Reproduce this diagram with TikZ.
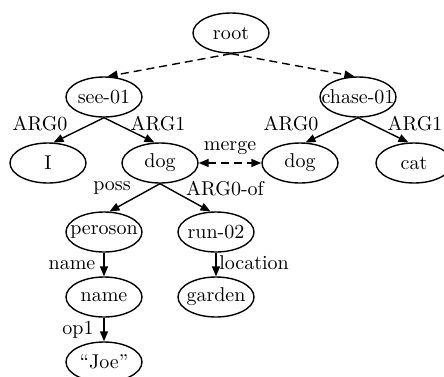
\documentclass[tikz,border=0pt]{standalone}
\usetikzlibrary{arrows.meta,shapes.geometric}
% concept text is set in a zero-width box so every ellipse keeps the same size
\newcommand\cpt[1]{\makebox[0pt]{#1}}
\begin{document}
\begin{tikzpicture}[x=0.5pt,y=-0.5pt,
  concept/.style={ellipse,draw,line width=0.7pt,minimum width=38pt,minimum height=20pt,inner sep=0pt},
  rel/.style={-{Triangle[length=5pt,width=4pt]},line width=0.7pt},
  link/.style={rel,dashed,dash pattern=on 4pt off 2.5pt},
  lbl/.style={inner sep=0pt}]
\useasboundingbox (0,0) rectangle (444,376);
\clip (0,0) rectangle (444,376);
% concepts
\node[concept] (root)  at (231,33)  {\cpt{root}};
\node[concept] (see)   at (104,97)  {\cpt{see-01}};
\node[concept] (chase) at (358,97)  {\cpt{chase-01}};
\node[concept] (i)     at (48,163)  {\cpt{I}};
\node[concept] (dogA)  at (160,163) {\cpt{dog}};
\node[concept] (dogB)  at (300,163) {\cpt{dog}};
\node[concept] (cat)   at (414,163) {\cpt{cat}};
\node[concept] (pers)  at (104,232) {\cpt{peroson}};
\node[concept] (run)   at (216,232) {\cpt{run-02}};
\node[concept] (nm)    at (104,297) {\cpt{name}};
\node[concept] (gard)  at (216,297) {\cpt{garden}};
\node[concept] (joe)   at (104,362) {\cpt{“Joe”}};
% links from the root
\draw[link] (root.south) -- (see.80);
\draw[link] (root.south) -- (chase.100);
% relations
\draw[rel] (see.south) -- (i.75);
\draw[rel] (see.south) -- (dogA.105);
\draw[rel] (chase.south) -- (dogB.75);
\draw[rel] (chase.south) -- (cat.105);
\draw[rel] (dogA.south) -- (pers.75);
\draw[rel] (dogA.south) -- (run.105);
\draw[rel] (pers.south) -- (nm.north);
\draw[rel] (run.south) -- (gard.north);
\draw[rel] (nm.south) -- (joe.north);
\draw[link,{Triangle[length=5pt,width=4pt]}-{Triangle[length=5pt,width=4pt]}] (dogA.east) -- (dogB.west);
% relation labels
\node[lbl] (l1) at (40,124)  {ARG0};
\node[lbl] (l2) at (158,124) {ARG1};
\node[lbl] (l3) at (291,124) {ARG0};
\node[lbl] (l4) at (415,124) {ARG1};
\node[lbl] (l5) at (230,148) {merge};
\node[lbl] (l6) at (112,188) {poss};
\node[lbl] (l7) at (225,189) {ARG0-of};
\node[lbl] (l8) at (72,265)  {name};
\node[lbl] (l9) at (254,263) {location};
\node[lbl] (l10) at (78,330) {op1};
\end{tikzpicture}
\end{document}
